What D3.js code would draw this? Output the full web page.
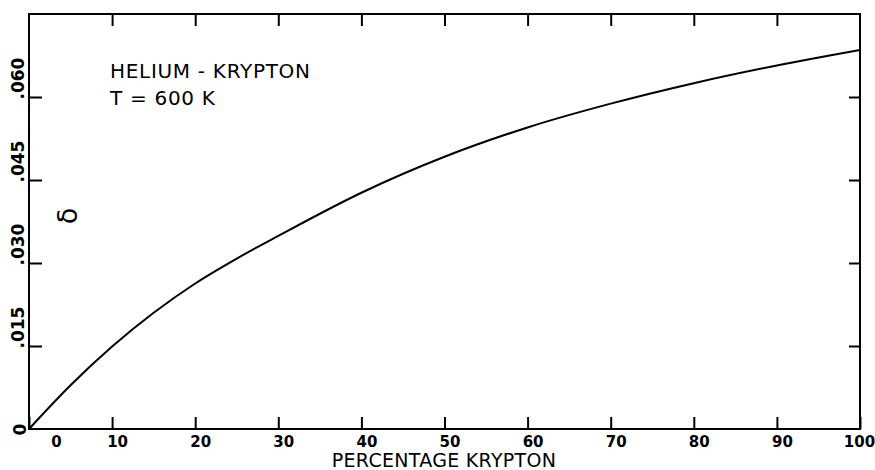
<!DOCTYPE html>
<html>
<head>
<meta charset="utf-8">
<script src="https://cdn.jsdelivr.net/npm/d3@7"></script>
<style>
  html, body { margin: 0; padding: 0; background: #fff; }
  svg { display: block; }
  text { font-family: "DejaVu Sans", sans-serif; fill: #000; }
</style>
</head>
<body>
<svg id="chart" width="875" height="470"></svg>
<script>
// Percentage krypton in the helium–krypton mixture
const percentKr = [0, 5, 10, 15, 20, 25, 30, 40, 50, 60, 70, 80, 90, 100];
// Separation factor delta at T = 600 K
const delta = [0, 0.0079, 0.0149, 0.0210, 0.0263, 0.0308, 0.0349, 0.0427, 0.0492, 0.0545, 0.0588, 0.0625, 0.0657, 0.0685];

const xTicks = [0, 10, 20, 30, 40, 50, 60, 70, 80, 90, 100];
const yTicks = [0, 0.015, 0.030, 0.045, 0.060];
const xDomain = [0, 100];
const yDomain = [0, 0.075];
const titleLines = ["HELIUM - KRYPTON", "T = 600 K"];
const xTitle = "PERCENTAGE KRYPTON";
const yTitle = "δ";

const W = 875, H = 470;
const m = { left: 29, right: 15, top: 14, bottom: 41 };
const iw = W - m.left - m.right, ih = H - m.top - m.bottom;

const svg = d3.select("#chart");
const g = svg.append("g").attr("transform", `translate(${m.left},${m.top})`);

const x = d3.scaleLinear().domain(xDomain).range([0, iw]);
const y = d3.scaleLinear().domain(yDomain).range([ih, 0]);

const yFmt = d => d === 0 ? "0" : d3.format(".3f")(d).replace(/^0/, "");

// frame
g.append("rect")
  .attr("x", 0).attr("y", 0).attr("width", iw).attr("height", ih)
  .attr("fill", "none").attr("stroke", "#000").attr("stroke-width", 2);

// bottom axis: ticks point inward, labels below
const axBottom = g.append("g").attr("transform", `translate(0,${ih})`)
  .call(d3.axisBottom(x).tickValues(xTicks).tickSizeInner(-12).tickSizeOuter(0).tickPadding(8)
    .tickFormat(d3.format("d")));
axBottom.select(".domain").remove();
axBottom.selectAll(".tick line").attr("stroke", "#000").attr("stroke-width", 2);
axBottom.selectAll(".tick text")
  .attr("font-size", 15).attr("font-weight", "bold").attr("dy", "0.71em").attr("y", 7)
  .attr("dx", d => d === 0 ? 27 : (d === 100 ? -1 : 5));

// top axis: inward ticks only
const axTop = g.append("g")
  .call(d3.axisTop(x).tickValues(xTicks.slice(1, -1)).tickSizeInner(-12).tickSizeOuter(0).tickFormat(""));
axTop.select(".domain").remove();
axTop.selectAll(".tick line").attr("stroke", "#000").attr("stroke-width", 2);

// left axis: inward ticks, rotated labels
const axLeft = g.append("g")
  .call(d3.axisLeft(y).tickValues(yTicks).tickSizeInner(-13).tickSizeOuter(0).tickFormat(yFmt));
axLeft.select(".domain").remove();
axLeft.selectAll(".tick line").attr("stroke", "#000").attr("stroke-width", 2)
  .attr("display", d => d === 0 ? "none" : null);
axLeft.selectAll(".tick text")
  .attr("x", null)
  .attr("font-size", 17).attr("font-weight", "bold")
  .attr("text-anchor", d => d === 0 ? "middle" : "start")
  .attr("transform", d => d === 0 ? "translate(-9,0) rotate(-90)" : "translate(-5,2) rotate(-90)")
  .attr("dy", d => d === 0 ? "0.35em" : "0");

// right axis: inward ticks only
const axRight = g.append("g").attr("transform", `translate(${iw},0)`)
  .call(d3.axisRight(y).tickValues(yTicks.slice(1)).tickSizeInner(-11).tickSizeOuter(0).tickFormat(""));
axRight.select(".domain").remove();
axRight.selectAll(".tick line").attr("stroke", "#000").attr("stroke-width", 2);

// curve
const line = d3.line()
  .x((d, i) => x(percentKr[i]))
  .y(d => y(d))
  .curve(d3.curveMonotoneX);
g.append("path")
  .datum(delta)
  .attr("d", line)
  .attr("fill", "none").attr("stroke", "#000").attr("stroke-width", 2);

// annotation
g.selectAll(".note").data(titleLines).join("text")
  .attr("class", "note")
  .attr("x", 81)
  .attr("y", (d, i) => 64 + i * 27)
  .attr("font-size", 20)
  .attr("letter-spacing", 0.7)
  .text(d => d);

// axis titles
svg.append("text")
  .attr("x", 444).attr("y", 467)
  .attr("text-anchor", "middle")
  .attr("font-size", 19)
  .attr("letter-spacing", 0.3)
  .text(xTitle);

svg.append("text")
  .attr("transform", "translate(68,216) rotate(-90)")
  .attr("text-anchor", "middle").attr("dy", "0.35em")
  .attr("font-size", 27)
  .text(yTitle);
</script>
</body>
</html>
